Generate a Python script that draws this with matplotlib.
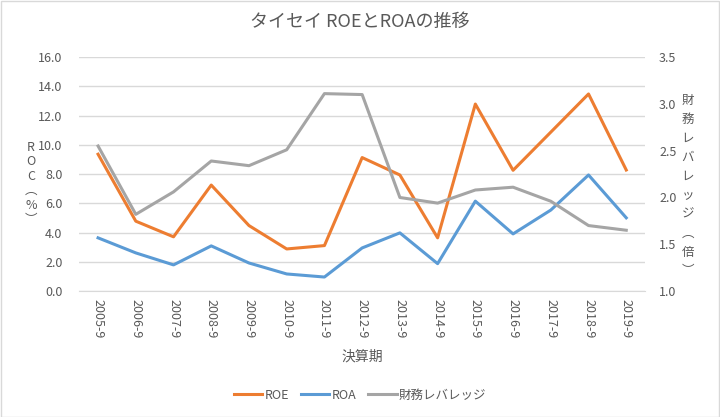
import matplotlib
matplotlib.use("Agg")
import matplotlib.pyplot as plt
from matplotlib.patches import Rectangle

plt.rcParams['font.family'] = ['Noto Sans CJK JP', 'DejaVu Sans']

periods = ["2005-9", "2006-9", "2007-9", "2008-9", "2009-9", "2010-9", "2011-9",
           "2012-9", "2013-9", "2014-9", "2015-9", "2016-9", "2017-9", "2018-9", "2019-9"]
roe = [9.36, 4.78, 3.71, 7.25, 4.48, 2.88, 3.11, 9.13, 7.94, 3.64, 12.79, 8.26, 10.87, 13.48, 8.28]
roa = [3.64, 2.61, 1.79, 3.09, 1.92, 1.17, 0.96, 2.95, 3.98, 1.875, 6.15, 3.91, 5.54, 7.94, 5.01]
leverage = [2.55, 1.82, 2.06, 2.39, 2.34, 2.51, 3.11, 3.10, 2.00, 1.94, 2.08, 2.11, 1.96, 1.70, 1.65]

left_ticks = [0, 2, 4, 6, 8, 10, 12, 14, 16]
right_ticks = [1.0, 1.5, 2.0, 2.5, 3.0, 3.5]

txt = '#595959'
grid = '#D9D9D9'
c_roe = '#ED7D31'
c_roa = '#5B9BD5'
c_lev = '#A5A5A5'

fig = plt.figure(figsize=(7.2, 4.17), dpi=100)
fig.patches.append(Rectangle((0.001, 0.001), 0.997, 0.996, transform=fig.transFigure,
                             fill=False, edgecolor=grid, linewidth=1))
ax = fig.add_axes([0.110, 0.302, 0.786, 0.561])
ax2 = ax.twinx()

x = list(range(len(periods)))
l1, = ax.plot(x, roe, color=c_roe, lw=2.2, label='ROE', zorder=3)
l2, = ax.plot(x, roa, color=c_roa, lw=2.2, label='ROA', zorder=3)
l3, = ax2.plot(x, leverage, color=c_lev, lw=2.2, label='財務レバレッジ', zorder=2)

ax.set_xlim(-0.5, len(periods) - 0.5)
ax.set_ylim(0, 16)
ax2.set_ylim(1.0, 3.5)
ax.set_yticks(left_ticks)
ax.set_yticklabels([f"{v:.1f}" for v in left_ticks])
ax2.set_yticks(right_ticks)
ax2.set_yticklabels([f"{v:.1f}" for v in right_ticks])
ax.set_xticks(x)
ax.set_xticklabels(periods, rotation=270)

ax.grid(axis='y', color=grid, lw=1)
ax.set_axisbelow(True)
for a in (ax, ax2):
    for s in a.spines.values():
        s.set_visible(False)
    a.tick_params(length=0, colors=txt, labelsize=9)
ax.spines['bottom'].set_visible(True)
ax.spines['bottom'].set_color(grid)
ax.tick_params(axis='y', pad=12)
ax.tick_params(axis='x', pad=6)
ax2.tick_params(axis='y', pad=10)

ax.set_xlabel('決算期', color=txt, fontsize=10, labelpad=8)
fig.text(0.5, 0.947, 'タイセイ ROEとROAの推移', ha='center', va='center', fontsize=13, color=txt)
fig.text(0.043, 0.56, "R\nO\nC\n︵\n%\n︶", ha='center', va='center', fontsize=9,
         color=txt, linespacing=1.15)
fig.text(0.955, 0.555, "財\n務\nレ\nバ\nレ\nッ\nジ\n︵\n倍\n︶", ha='center', va='center',
         fontsize=9, color=txt, linespacing=1.6)

fig.legend(handles=[l1, l2, l3], loc='center', bbox_to_anchor=(0.5, 0.052), ncol=3,
           frameon=False, fontsize=9, labelcolor=txt, handlelength=2.3, columnspacing=0.9,
           handletextpad=0.2)

fig.savefig('out.png', dpi=100)
